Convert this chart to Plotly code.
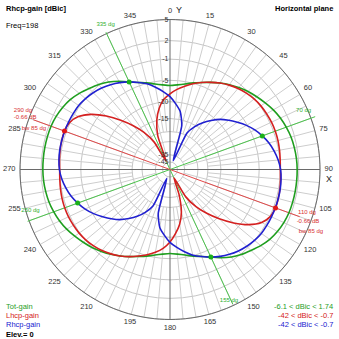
import math
import plotly.graph_objects as go

# Azimuth angles (deg, clockwise from Y axis)
angles = list(range(0, 360, 5))

# Total gain [dBi]
tot_gain = [
    -6.1, -5.9, -5.5, -4.9, -4.3, -3.6, -2.9, -2.2, -1.6, -1.0, -0.5, 0.0,
    0.5, 0.9, 1.2, 1.45, 1.6, 1.7,
    1.74, 1.74, 1.73, 1.7, 1.65, 1.5, 1.25, 0.9, 0.35, -0.3, -0.9, -1.6,
    -2.5, -3.5, -4.3, -4.9, -5.5, -5.9,
    -6.1, -5.9, -5.5, -4.9, -4.3, -3.6, -2.9, -2.2, -1.6, -1.0, -0.5, 0.0,
    0.5, 0.9, 1.2, 1.45, 1.6, 1.7,
    1.74, 1.74, 1.73, 1.7, 1.65, 1.5, 1.25, 0.9, 0.35, -0.3, -0.9, -1.6,
    -2.5, -3.5, -4.3, -4.9, -5.5, -5.9,
]

# Left-hand circular gain [dBic]
lhcp_gain = [
    -8.0, -6.9, -6.0, -5.1, -4.3, -3.6, -2.9, -2.3, -1.8, -1.4, -1.1, -0.9,
    -0.8, -0.72, -0.7, -0.75, -0.85, -0.95,
    -1.0, -0.9, -0.78, -0.7, -0.66, -0.9, -1.8, -3.6, -6.3, -9.5, -13.0, -17.0,
    -23.0, -42.0, -26.0, -17.5, -13.5, -11.0,
    -8.8, -7.2, -6.1, -5.2, -4.4, -3.6, -2.9, -2.3, -1.8, -1.4, -1.1, -0.9,
    -0.8, -0.72, -0.7, -0.75, -0.85, -0.95,
    -1.0, -0.9, -0.78, -0.7, -0.66, -0.9, -1.8, -3.6, -6.3, -9.5, -13.0, -17.0,
    -23.0, -42.0, -21.0, -15.0, -11.5, -9.3,
]

# Right-hand circular gain [dBic]
rhcp_gain = [
    -8.7, -10.5, -12.5, -17.0, -42.0, -19.0, -15.5, -13.0, -11.0, -9.2, -7.8, -6.5,
    -5.2, -4.1, -3.2, -2.4, -1.8, -1.3,
    -0.95, -0.8, -0.72, -0.7, -0.7, -0.72, -0.75, -0.8, -1.0, -1.3, -1.7, -2.2,
    -2.8, -3.5, -4.3, -5.1, -6.2, -7.4,
    -8.7, -10.5, -12.5, -17.0, -42.0, -19.0, -15.5, -13.0, -11.0, -9.2, -7.8, -6.5,
    -5.2, -4.1, -3.2, -2.4, -1.8, -1.3,
    -0.95, -0.8, -0.72, -0.7, -0.7, -0.72, -0.75, -0.8, -1.0, -1.3, -1.7, -2.2,
    -2.8, -3.5, -4.3, -5.1, -6.2, -7.4,
]

# Grid rings [dBi] and their labels
ring_db = [5, 2, -1, -5, -10, -15, -20, -25, -35, -45]
ring_text = ["5", "2", "-1", "-5", "-10", "-15", "", "", "-35", "-45"]

# Azimuth scale labels
azimuth_ticks = list(range(0, 360, 15))

# Marker directions
tot_marks = [70, 250, 335, 155]
lhcp_marks = [110, 290]
LHCP_PEAK = "-0.66 dB"
LHCP_BW = "bw 85 dg"

GAIN_MAX = 5.0
R_OUT = 1.075          # radial room for the azimuth labels outside the 5 dBi ring
GREEN, RED, BLUE = "#1f9e1f", "#d42020", "#2020d0"
FONT = "Liberation Sans"


def radius(db):
    """Log-periodic style radial scale: outer ring at GAIN_MAX."""
    d = GAIN_MAX - db
    return math.exp(-0.05 * d - 0.0002 * d * d)


def closed(seq):
    return list(seq) + [seq[0]]


def outward(a):
    """Text anchor that keeps an azimuth label outside the ring."""
    sx, cy = math.sin(math.radians(a)), math.cos(math.radians(a))
    v = "top" if cy > 0.38 else ("bottom" if cy < -0.38 else "middle")
    h = "right" if sx > 0.38 else ("left" if sx < -0.38 else "center")
    return f"{v} {h}"


fig = go.Figure()

# --- custom angular grid: 5 deg lines outside, 15 deg lines further in ---
grid_r, grid_t = [], []
for a in range(0, 360, 5):
    if a % 90 == 0:
        continue
    r0 = radius(-35) if a % 15 == 0 else radius(-20)
    grid_r += [r0, 1, None]
    grid_t += [a, a, None]
fig.add_trace(go.Scatterpolar(r=grid_r, theta=grid_t, mode="lines",
                              line=dict(color="#cdcdcd", width=1),
                              hoverinfo="skip", showlegend=False))

# --- outer ring ---
ring_t = list(range(0, 361, 2))
fig.add_trace(go.Scatterpolar(r=[1] * len(ring_t), theta=ring_t, mode="lines",
                              line=dict(color="#6a6a6a", width=1),
                              hoverinfo="skip", showlegend=False))

# --- X / Y axes through the centre ---
fig.add_trace(go.Scatterpolar(r=[1, 0, 1, None, 1, 0, 1], theta=[0, 0, 180, None, 90, 90, 270],
                              mode="lines", line=dict(color="#6a6a6a", width=1),
                              hoverinfo="skip", showlegend=False))

# --- azimuth labels ---
fig.add_trace(go.Scatterpolar(r=[1.03] * len(azimuth_ticks), theta=azimuth_ticks,
                              text=[str(a) for a in azimuth_ticks], mode="text",
                              textposition=[outward(a) for a in azimuth_ticks],
                              textfont=dict(family=FONT, size=7.5, color="#333"),
                              cliponaxis=False, hoverinfo="skip", showlegend=False))

# --- beam direction lines ---
for a, b, r1, r2 in [(70, 250, 1.03, 1.01), (335, 155, 1.01, 0.99)]:
    fig.add_trace(go.Scatterpolar(r=[r1, 0, r2], theta=[a, a, b], mode="lines",
                                  line=dict(color="#4cc44c", width=1),
                                  cliponaxis=False, hoverinfo="skip", showlegend=False))
fig.add_trace(go.Scatterpolar(r=[0.97, 0, 0.92], theta=[290, 290, 110], mode="lines",
                              line=dict(color="#e04848", width=1),
                              cliponaxis=False, hoverinfo="skip", showlegend=False))

# --- gain patterns ---
for vals, col, name in [(tot_gain, GREEN, "Tot-gain"),
                        (lhcp_gain, RED, "Lhcp-gain"),
                        (rhcp_gain, BLUE, "Rhcp-gain")]:
    fig.add_trace(go.Scatterpolar(r=closed([radius(v) for v in vals]),
                                  theta=closed(angles), mode="lines",
                                  line=dict(color=col, width=1.6, shape="spline", smoothing=0.6),
                                  name=name, showlegend=False))

# --- markers on the patterns ---
fig.add_trace(go.Scatterpolar(r=[radius(rhcp_gain[angles.index(a)]) for a in tot_marks],
                              theta=tot_marks, mode="markers",
                              marker=dict(color="#19b019", size=5),
                              hoverinfo="skip", showlegend=False))
fig.add_trace(go.Scatterpolar(r=[radius(lhcp_gain[angles.index(a)]) for a in lhcp_marks],
                              theta=lhcp_marks, mode="markers",
                              marker=dict(color="#e01818", size=5),
                              hoverinfo="skip", showlegend=False))

# --- marker captions ---
fig.add_trace(go.Scatterpolar(
    r=[1.055, 0.975, 0.97, 0.96],
    theta=[336, 66, 253.5, 155.8],
    text=[f"{a} dg" for a in [335, 70, 250, 155]],
    mode="text", textfont=dict(family=FONT, size=6, color="#30b030"),
    cliponaxis=False, hoverinfo="skip", showlegend=False))
fig.add_trace(go.Scatterpolar(
    r=[1.057, 1.025, 0.948, 0.958, 0.982, 1.025],
    theta=[292, 289.6, 286.9, 107.6, 110.5, 113.6],
    text=["290 dg", LHCP_PEAK, LHCP_BW, "110 dg", LHCP_PEAK, LHCP_BW],
    mode="text", textfont=dict(family=FONT, size=6, color="#d83030"),
    cliponaxis=False, hoverinfo="skip", showlegend=False))

W = H = 339
CX, CY, R_PX = 170, 169.5, 150 * R_OUT


def ann(text, x, y, color="#000", size=7.5, anchor="left", bold=False):
    if bold:
        text = f"<b>{text}</b>"
    return dict(text=text, x=x / W, y=1 - y / H, xref="paper", yref="paper",
                xanchor=anchor, yanchor="middle", showarrow=False,
                font=dict(family=FONT, size=size, color=color))


annotations = [
    ann("Rhcp-gain [dBic]", 4, 8, bold=True),
    ann("Freq=198", 4, 25),
    ann("Horizontal plane", 335, 8, anchor="right", bold=True),
    ann("Y", 174, 10, size=9, color="#222"),
    ann("X", 324, 179, size=9, color="#222"),
    ann("Tot-gain", 4, 306, color=GREEN),
    ann("Lhcp-gain", 4, 315, color=RED),
    ann("Rhcp-gain", 4, 324, color=BLUE),
    ann("Elev.= 0", 4, 334, bold=True),
    ann(f"{min(tot_gain)} < dBic < {max(tot_gain)}", 335, 306, color=GREEN, anchor="right"),
    ann("-42 < dBic < -0.7", 335, 315, color=RED, anchor="right"),
    ann("-42 < dBic < -0.7", 335, 324, color=BLUE, anchor="right"),
]

fig.update_layout(
    width=W, height=H,
    margin=dict(l=0, r=0, t=0, b=0),
    paper_bgcolor="white",
    showlegend=False,
    annotations=annotations,
    polar=dict(
        domain=dict(x=[(CX - R_PX) / W, (CX + R_PX) / W],
                    y=[1 - (CY + R_PX) / H, 1 - (CY - R_PX) / H]),
        bgcolor="white",
        radialaxis=dict(range=[0, R_OUT], tickvals=[radius(v) for v in ring_db],
                        ticktext=ring_text, angle=90, side="counterclockwise",
                        showline=False, ticks="", tickangle=90,
                        gridcolor="#c6c6c6", gridwidth=1,
                        tickfont=dict(family=FONT, size=7, color="#333")),
        angularaxis=dict(rotation=90, direction="clockwise",
                         showgrid=False, showline=False, ticks="",
                         showticklabels=False),
    ),
)

fig.write_html("out.html")
